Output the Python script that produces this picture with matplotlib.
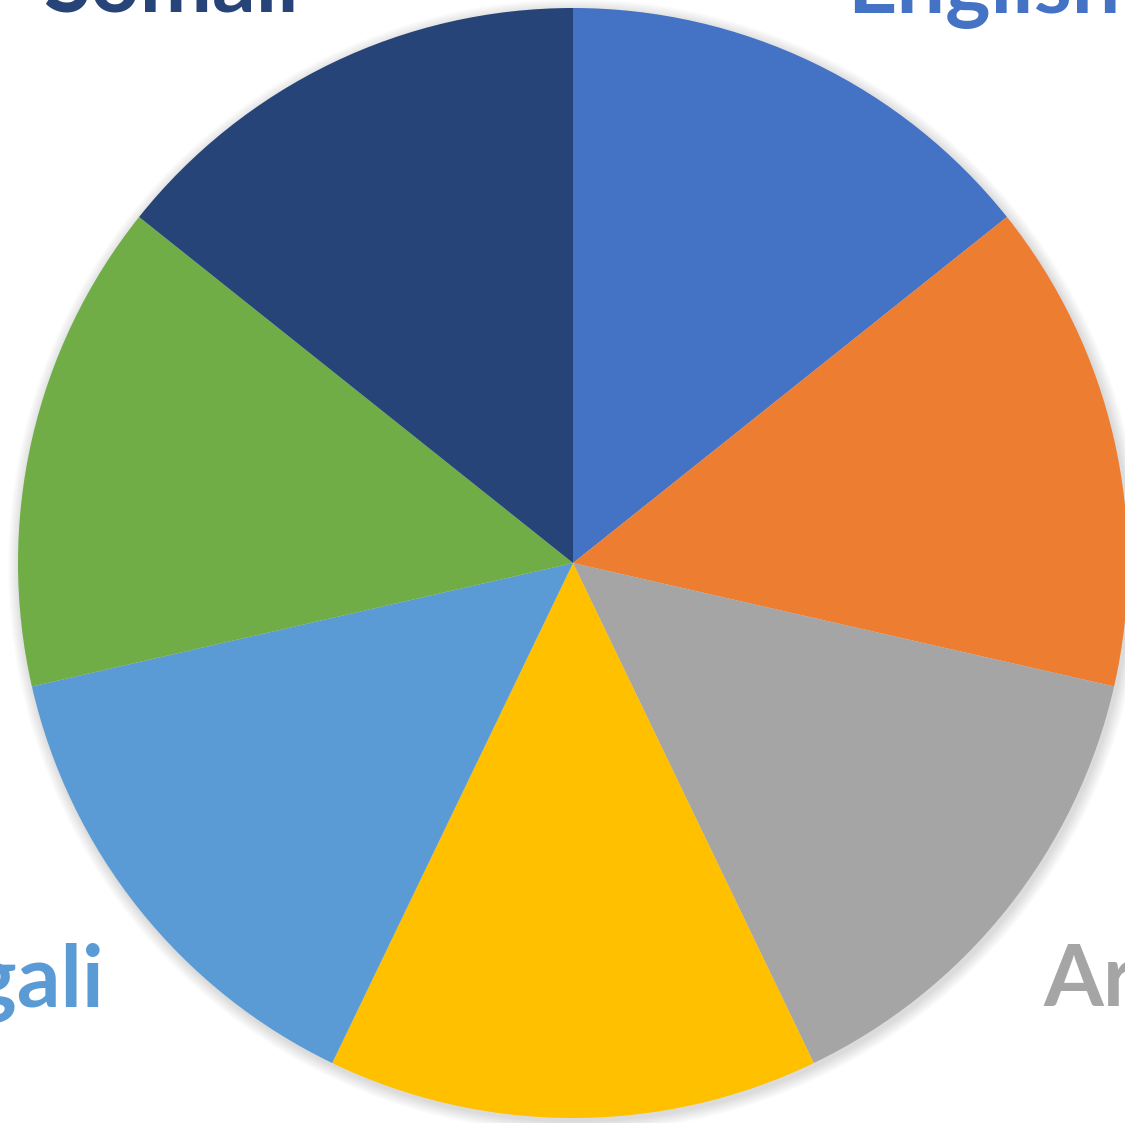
import matplotlib
matplotlib.use("Agg")
import matplotlib.pyplot as plt
from matplotlib.patches import Circle

languages = ["English", "", "Arabic", "", "Bengali", "", "Somali"]
shares = [1, 1, 1, 1, 1, 1, 1]
colors = ["#4472C4", "#ED7D31", "#A5A5A5", "#FFC000", "#5B9BD5", "#70AD47", "#264478"]

W, H = 1125, 1123
fig = plt.figure(figsize=(W / 100, H / 100), dpi=100)
ax = fig.add_axes([0, 0, 1, 1])

cx, cy, r = 573, 560, 555

# soft shadow under the pie
for i in range(12):
    ax.add_patch(Circle((cx + 2, cy - 3), r + 12 - i, color="black",
                        alpha=0.012, lw=0, zorder=0))

ax.pie(shares, colors=colors, startangle=90, counterclock=False,
       center=(cx, cy), radius=r, frame=True,
       wedgeprops=dict(linewidth=0))
ax.set_xlim(0, W)
ax.set_ylim(0, H)
ax.set_aspect("equal")
ax.axis("off")

# label positions (outside the pie, partly clipped by the canvas)
label_pos = {
    "English": (847, 1110, "left"),
    "Arabic": (1043, 117, "left"),
    "Bengali": (104, 116, "right"),
    "Somali": (43, 1111, "left"),
}
for name, col in zip(languages, colors):
    if name in label_pos:
        x, y, ha = label_pos[name]
        ax.text(x, y, name, color=col, fontsize=62, fontweight="bold",
                family=["Lato", "DejaVu Sans"], ha=ha, va="baseline")

fig.savefig("out.png", dpi=100)
